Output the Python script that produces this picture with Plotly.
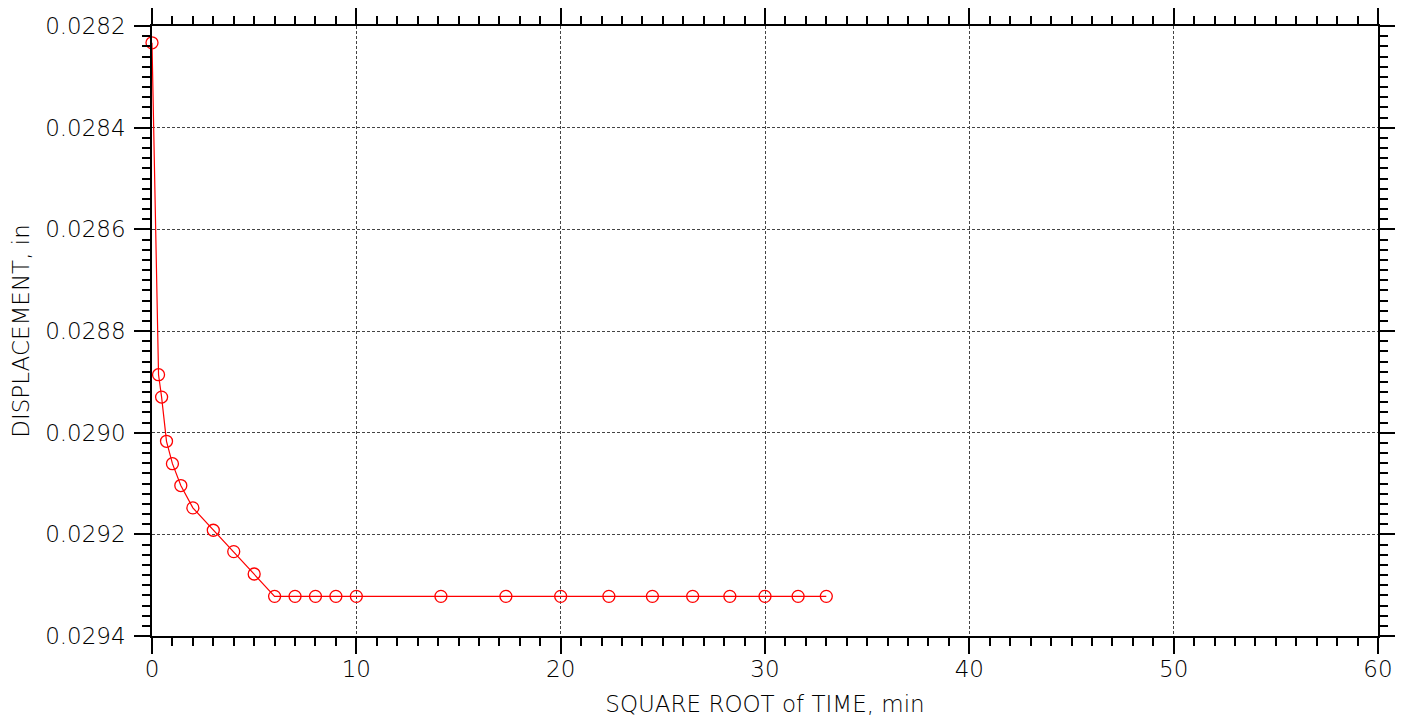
import plotly.graph_objects as go

sqrt_time = [0.0, 0.32, 0.47, 0.71, 1.0, 1.41, 2.0, 3.0, 4.0, 5.0, 6.0, 7.0, 8.0, 9.0, 10.0,
             14.14, 17.32, 20.0, 22.36, 24.49, 26.46, 28.28, 30.0, 31.62, 33.0]
displacement = [0.028233, 0.028886, 0.028930, 0.029017, 0.029061, 0.029104, 0.029148, 0.029192,
                0.029234, 0.029278, 0.029322, 0.029322, 0.029322, 0.029322, 0.029322,
                0.029322, 0.029322, 0.029322, 0.029322, 0.029322, 0.029322, 0.029322,
                0.029322, 0.029322, 0.029322]
y_ticks = [0.0282, 0.0284, 0.0286, 0.0288, 0.0290, 0.0292, 0.0294]
x_ticks = [0, 10, 20, 30, 40, 50, 60]

fig = go.Figure()
fig.add_trace(go.Scatter(
    x=sqrt_time, y=displacement, mode="lines+markers",
    line=dict(color="#ff0000", width=1.2),
    marker=dict(symbol="circle-open", size=12, color="#ff0000", line=dict(width=1.3)),
    showlegend=False, cliponaxis=False,
))

font = "DejaVu Sans, Verdana, sans-serif"
axis_common = dict(
    showline=True, linecolor="black", linewidth=1.5, mirror="allticks",
    ticks="outside", ticklen=16, tickwidth=1.5, tickcolor="black",
    showgrid=True, gridcolor="#444444", gridwidth=1, griddash="3px,2px",
    zeroline=False, automargin=False,
    tickfont=dict(family=font, size=23, color="black", weight=300),
)

fig.update_xaxes(
    range=[0, 60], tickvals=x_ticks, ticktext=[str(v) for v in x_ticks],
    minor=dict(dtick=1, tick0=0, ticks="outside", ticklen=8, tickwidth=1.5,
               tickcolor="black", showgrid=False),
    title=dict(text="SQUARE ROOT of TIME, min",
               font=dict(family=font, size=23, color="black", weight=300), standoff=15),
    ticklabelstandoff=-4,
    **axis_common,
)
fig.update_yaxes(
    range=[0.0294, 0.0282], tickvals=y_ticks, ticktext=[f"{v:.4f}" for v in y_ticks],
    minor=dict(dtick=0.00002, tick0=0.0282, ticks="outside", ticklen=8, tickwidth=1.5,
               tickcolor="black", showgrid=False),
    title=dict(text="DISPLACEMENT, in",
               font=dict(family=font, size=23, color="black", weight=300), standoff=16),
    ticklabelstandoff=4,
    **axis_common,
)

fig.update_layout(
    width=1395, height=709,
    margin=dict(l=144, r=25, t=18, b=81),
    plot_bgcolor="white", paper_bgcolor="white",
)
fig.write_html("out.html")
